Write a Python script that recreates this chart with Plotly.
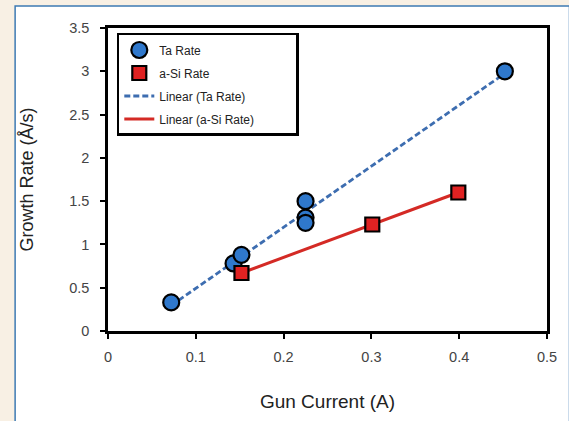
import numpy as np
import plotly.graph_objects as go

# Data
ta_current = [0.072, 0.143, 0.152, 0.225, 0.225, 0.225, 0.452]
ta_rate = [0.33, 0.78, 0.88, 1.50, 1.31, 1.25, 3.00]
si_current = [0.152, 0.301, 0.399]
si_rate = [0.67, 1.23, 1.60]

x_ticks = [0, 0.1, 0.2, 0.3, 0.4, 0.5]
y_ticks = [0, 0.5, 1, 1.5, 2, 2.5, 3, 3.5]

# Linear trendlines (least squares, Excel-style)
ta_fit = np.polyfit(ta_current, ta_rate, 1)
si_fit = np.polyfit(si_current, si_rate, 1)
ta_x = np.array([min(ta_current), max(ta_current)])
si_x = np.array([min(si_current), max(si_current)])

FONT = "Liberation Sans, Arial, sans-serif"
PAD = "\u00a0" * 11

fig = go.Figure()
fig.add_trace(go.Scatter(
    x=ta_x, y=np.polyval(ta_fit, ta_x), mode="lines", name="Linear (Ta Rate)",
    line=dict(color="#3d6db0", width=2.8, dash="6px,3px"), legendrank=3, legendgroup="c"))
fig.add_trace(go.Scatter(
    x=si_x, y=np.polyval(si_fit, si_x), mode="lines", name="Linear (a-Si Rate)" + PAD,
    line=dict(color="#d42a25", width=3), legendrank=4, legendgroup="d"))
fig.add_trace(go.Scatter(
    x=ta_current, y=ta_rate, mode="markers", name="Ta Rate",
    marker=dict(symbol="circle", size=16, color="#2f78cc",
                line=dict(color="black", width=2.2)), legendrank=1, legendgroup="a"))
fig.add_trace(go.Scatter(
    x=si_current, y=si_rate, mode="markers", name="a-Si Rate",
    marker=dict(symbol="square", size=14, color="#e02222",
                line=dict(color="black", width=2.2)), legendrank=2, legendgroup="b"))

L, R, T, B = 108, 12, 28, 89
W, H = 569, 421
pw, ph = W - L - R, H - T - B

def px2x(p):
    return (p - L) / pw

def py2y(p):
    return (H - B - p) / ph

fig.update_layout(
    width=W, height=H,
    margin=dict(l=L, r=R, t=T, b=B),
    paper_bgcolor="#f8f0e4",
    plot_bgcolor="white",
    font=dict(family=FONT, color="#333333"),
    showlegend=True,
    legend=dict(
        x=px2x(117), y=py2y(33), xanchor="left", yanchor="top",
        bgcolor="white", bordercolor="black", borderwidth=2.5,
        font=dict(size=12, family=FONT, color="#222222"),
        itemsizing="trace", itemwidth=30,
        traceorder="grouped", tracegroupgap=4,
    ),
    shapes=[dict(
        type="rect", xref="paper", yref="paper", layer="below",
        x0=px2x(13), x1=px2x(580), y0=py2y(430), y1=py2y(6),
        fillcolor="white", line=dict(color="#3d7ab3", width=1.5),
    )],
)

fig.update_xaxes(
    range=[0, 0.5], tickvals=x_ticks, showgrid=False, zeroline=False,
    showline=True, linecolor="black", linewidth=2.5, mirror=True,
    ticks="outside", ticklen=5, tickwidth=2, tickcolor="black",
    tickfont=dict(size=14.5, color="#444444", family=FONT),
    ticklabelstandoff=6,
    title=dict(text="Gun Current (A)", font=dict(size=19, color="#222222", family=FONT), standoff=31),
)
fig.update_yaxes(
    range=[0, 3.5], tickvals=y_ticks, showgrid=False, zeroline=False,
    showline=True, linecolor="black", linewidth=2.5, mirror=True,
    ticks="outside", ticklen=5, tickwidth=2, tickcolor="black",
    tickfont=dict(size=14.5, color="#444444", family=FONT),
    ticklabelstandoff=8,
    title=dict(text="Growth Rate (Å/s)", font=dict(size=18, color="#222222", family=FONT), standoff=31),
)

fig.write_html("out.html")
